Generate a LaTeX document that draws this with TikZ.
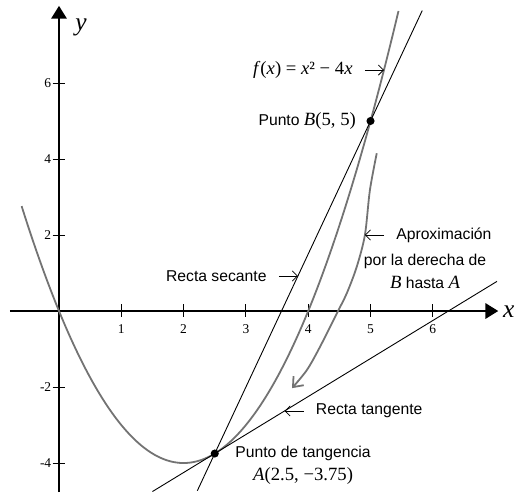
\documentclass[tikz,border=0pt]{standalone}
\usepackage{fontspec}
\setmainfont{Liberation Serif}
\setsansfont{Liberation Sans}
\usepackage{tikz}
\usetikzlibrary{arrows.meta,positioning,calc}

\newcommand{\sertxt}[1]{{\rmfamily\fontsize{12.5}{15.5}\selectfont #1}}

\begin{document}
\begin{tikzpicture}[
    x=1.464cm, y=0.893cm,
    axis/.style={line width=1.3pt, -{Triangle[length=3mm, width=3.6mm]}},
    tickmark/.style={line width=0.6pt},
    parab/.style={line width=1.2pt, black!55},
    thinline/.style={line width=0.6pt},
    dot/.style={circle, fill, inner sep=0pt, minimum size=0.19cm},
    lbl/.style={font=\sffamily\fontsize{10.5}{15.5}\selectfont, inner xsep=8pt, inner ysep=1pt, align=center},
    numlbl/.style={font=\rmfamily\fontsize{9}{11}\selectfont, inner sep=0pt},
    axlbl/.style={font=\rmfamily\itshape\fontsize{17}{20}\selectfont},
    txtarr/.style={-{Straight Barb[length=1.2mm, width=2.4mm]}, line width=0.5pt},
    aprx/.style={line width=1.2pt, black!55, -{Straight Barb[length=2mm, width=3.2mm]}}
]
\useasboundingbox (-0.947,-4.763) rectangle (7.335,8.184);

% axes
\coordinate (xs) at (-0.787,0);
\coordinate (xe) at (7.05,0);
\coordinate (ys) at (0,-4.763);
\coordinate (ye) at (0,8.03);
\draw[axis] (xs) -- (xe);
\draw[axis] (ys) -- (ye);
\node[axlbl] (xlbl) at (7.22,-0.03) {x};
\node[axlbl] (ylbl) at (0.353,7.47) {y};

\foreach \i in {1,...,6} {
  \draw[tickmark] (\i,0) ++(0pt,-0.14cm) -- ++(0pt,0.3cm);
  \node[numlbl, anchor=north] at (\i,-0.34) {\i};
}
\foreach \j in {6,4,2,-2,-4} {
  \draw[tickmark] (0,\j) ++(-0.15cm,0pt) -- ++(0.3cm,0pt);
  \node[numlbl, anchor=east] at (-0.12,\j) {\j};
}

% function, secant and tangent
\coordinate (A) at (2.5,-3.75);
\coordinate (B) at (5,5);
\draw[parab] plot[domain=-0.6:5.45, samples=80, smooth] (\x,{\x*\x-4*\x});
\draw[thinline] ($(A)!-0.112!(B)$) -- ($(A)!1.332!(B)$);
\draw[thinline] ($(A)+(-1,-1)$) -- ($(A)+(4.53,4.53)$);
\draw[aprx] plot[smooth] coordinates {(5.10,4.15) (4.99,3.18) (4.91,2.0) (4.78,1.17) (4.62,0.47) (4.46,-0.06) (4.19,-0.94) (3.98,-1.55) (3.74,-2.03)};

\node[dot] (Adot) at (A) {};
\node[dot] (Bdot) at (B) {};

% labels
\coordinate (fpt) at (5.216,6.34);
\node[lbl, left=0.45cm of fpt] (flbl) {\sertxt{\textit{f}(\textit{x}) = \textit{x}² − 4\textit{x}}};
\draw[txtarr] (flbl) -- (fpt);

\node[lbl, inner xsep=1pt, left=0.2cm of Bdot] (Blbl) {Punto \sertxt{\textit{B}(5, 5)}};

\coordinate (secpt) at ($(A)!0.534!(B)$);
\node[lbl, left=0.45cm of secpt] (seclbl) {Recta secante};
\draw[txtarr] (seclbl) -- (secpt);

\coordinate (tanpt) at ($(A)+(1.12,1.12)$);
\node[lbl, right=0.45cm of tanpt] (tanlbl) {Recta tangente};
\draw[txtarr] (tanlbl) -- (tanpt);

\coordinate (aprpt) at (4.91,2.0);
\node[lbl, right=0.45cm of aprpt] (aprlbl) {Aproximación};
\draw[txtarr] (aprlbl) -- (aprpt);
\node[lbl] (aprlbl2) at (5.875,1.05) {por la derecha de\\\sertxt{\textit{B}} hasta \sertxt{\textit{A}}};

\node[lbl] (Albl) at (3.917,-4.05) {Punto de tangencia\\\sertxt{\textit{A}(2.5, −3.75)}};
\end{tikzpicture}
\end{document}
